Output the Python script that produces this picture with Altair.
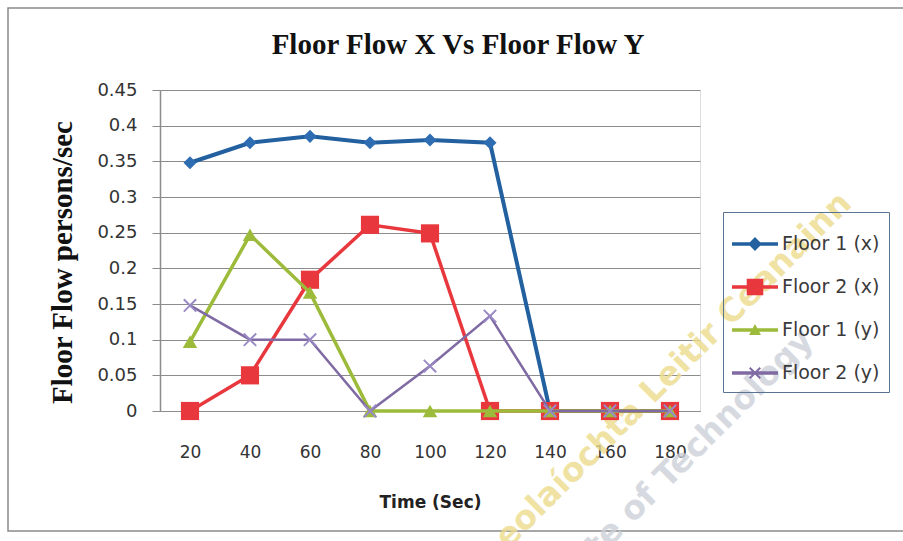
import altair as alt
import pandas as pd

# ---------------- data ----------------
times = ["20", "40", "60", "80", "100", "120", "140", "160", "180"]
series = ["Floor 1 (x)", "Floor 2 (x)", "Floor 1 (y)", "Floor 2 (y)"]
floor1_x = [0.348, 0.376, 0.385, 0.376, 0.380, 0.376, 0.0, 0.0, 0.0]
floor2_x = [0.0, 0.050, 0.184, 0.261, 0.249, 0.0, 0.0, 0.0, 0.0]
floor1_y = [0.097, 0.247, 0.166, 0.0, 0.0, 0.0, 0.0, 0.0, 0.0]
floor2_y = [0.148, 0.100, 0.100, 0.0, 0.063, 0.133, 0.0, 0.0, 0.0]
y_ticks = [0, 0.05, 0.1, 0.15, 0.2, 0.25, 0.3, 0.35, 0.4, 0.45]
watermark = ["Institiúid Teicneolaíochta Leitir Ceanainn",
             "Letterkenny Institute of Technology"]

title_text = ["Floor Flow X Vs Floor Flow Y"]
x_title = "Time (Sec)"
y_title = "Floor Flow persons/sec"

# ---------------- styles ----------------
colors = ["#22609F", "#E8373D", "#9DBB3A", "#7F6AA3"]
marker_colors = ["#2F6DB3", "#E8373D", "#9DBB3A", "#9A8AC4"]
line_widths = [4, 3.5, 3.5, 2.5]
X_PATH = ("M-1,-0.8L-0.8,-1L0,-0.2L0.8,-1L1,-0.8L0.2,0L1,0.8L0.8,1"
          "L0,0.2L-0.8,1L-1,0.8L-0.2,0Z")
marker_shapes = ["diamond", "square", "triangle-up", X_PATH]
marker_sizes = [170, 330, 210, 190]

STUB = "M-1,-0.075L1,-0.075L1,0.075L-1,0.075Z"
legend_paths = [
    STUB + " M0,-0.3L0.3,0L0,0.3L-0.3,0Z",
    STUB + " M-0.36,-0.36L0.36,-0.36L0.36,0.36L-0.36,0.36Z",
    STUB + " M0,-0.26L0.26,0.22L-0.26,0.22Z",
    STUB + " M-0.26,-0.2L-0.2,-0.26L0,-0.06L0.2,-0.26L0.26,-0.2L0.06,0"
           "L0.26,0.2L0.2,0.26L0,0.06L-0.2,0.26L-0.26,0.2L-0.06,0Z",
]

rows = []
for name, vals in zip(series, [floor1_x, floor2_x, floor1_y, floor2_y]):
    for t, v in zip(times, vals):
        rows.append({"time": t, "series": name, "value": v})
df = pd.DataFrame(rows)

x_enc = alt.X(
    "time:N", sort=times,
    scale=alt.Scale(domain=times, type="point", padding=0.5),
    axis=alt.Axis(
        title=x_title, labelAngle=0, ticks=False, grid=False,
        labelPadding=33, labelFont="DejaVu Sans", labelFontSize=17,
        labelColor="#333333", domainColor="#8c8c8c", domainWidth=1.2,
        titleFont="DejaVu Sans", titleFontSize=17, titleFontWeight="bold",
        titleColor="#222222", titleY=91, titleBaseline="middle",
    ),
)
y_enc = alt.Y(
    "value:Q",
    scale=alt.Scale(domain=[0, 0.45], nice=False, zero=True),
    axis=alt.Axis(
        values=y_ticks, format="~g", title=y_title,
        titleFont="Liberation Serif", titleFontSize=29, titleFontWeight="bold",
        titleColor="#111111", titleX=-98, titleY=172, titleAngle=270,
        titleAlign="center", titleBaseline="middle",
        tickSize=8, tickColor="#8c8c8c", domainColor="#8c8c8c", domainWidth=1.5,
        labelPadding=15, labelFont="DejaVu Sans", labelFontSize=18,
        labelColor="#333333", gridColor="#8c8c8c", gridWidth=1.2,
    ),
)

one = pd.DataFrame({"a": [0]})

border = alt.Chart(one).mark_rect(
    fill=None, stroke="#8a8a8a", strokeWidth=1.5
).encode(
    x=alt.value(-152), x2=alt.value(790), y=alt.value(-82), y2=alt.value(441)
)

title_mark = alt.Chart(pd.DataFrame({"t": title_text})).mark_text(
    font="Liberation Serif", fontSize=29, fontWeight="bold", color="#111111",
    align="center", baseline="middle"
).encode(text="t:N", x=alt.value(298), y=alt.value(-45))

wm_df = pd.DataFrame({"t": watermark})
wm1 = alt.Chart(wm_df).transform_filter(
    alt.datum.t == watermark[0]
).mark_text(
    align="right", baseline="middle", angle=315, font="DejaVu Sans",
    fontWeight="bold", fontSize=33, color="#EDDB8C", opacity=0.8
).encode(text="t:N", x=alt.value(686), y=alt.value(108))
wm2 = alt.Chart(wm_df).transform_filter(
    alt.datum.t == watermark[1]
).mark_text(
    align="right", baseline="middle", angle=315, font="DejaVu Sans",
    fontWeight="bold", fontSize=33, color="#CDD2D9", opacity=0.8
).encode(text="t:N", x=alt.value(648), y=alt.value(245))

layers = [border, wm1, wm2, title_mark]
for i, name in enumerate(series):
    base = alt.Chart(df).transform_filter(alt.datum.series == name)
    layers.append(
        base.mark_line(color=colors[i], strokeWidth=line_widths[i]).encode(
            x=x_enc, y=y_enc)
    )
    layers.append(
        base.mark_point(
            shape=marker_shapes[i], filled=True, size=marker_sizes[i],
            color=marker_colors[i], opacity=1, strokeWidth=0,
        ).encode(x=x_enc, y=y_enc)
    )

legend = alt.Legend(
    title=None, orient="none", legendX=563, legendY=122, padding=9,
    rowPadding=10, symbolSize=2116, symbolStrokeWidth=0, symbolOpacity=1,
    labelFont="DejaVu Sans", labelFontSize=19, labelColor="#3a3a3a",
    labelOffset=4, strokeColor="#5B7393",
)
legend_layer = alt.Chart(df).transform_filter("false").mark_point(
    filled=True, opacity=1
).encode(
    x=x_enc, y=y_enc,
    color=alt.Color("series:N", scale=alt.Scale(domain=series, range=colors),
                    legend=legend),
    shape=alt.Shape("series:N",
                    scale=alt.Scale(domain=series, range=legend_paths),
                    legend=legend),
)
layers.append(legend_layer)

chart = alt.layer(*layers).properties(
    width=540, height=321,
    autosize=alt.AutoSizeParams(type="none"),
    padding={"left": 160, "top": 90, "right": 203, "bottom": 130},
).configure_view(stroke=None).configure(background="white")

chart.save("out.html", embed_options={"renderer": "svg", "actions": False})
